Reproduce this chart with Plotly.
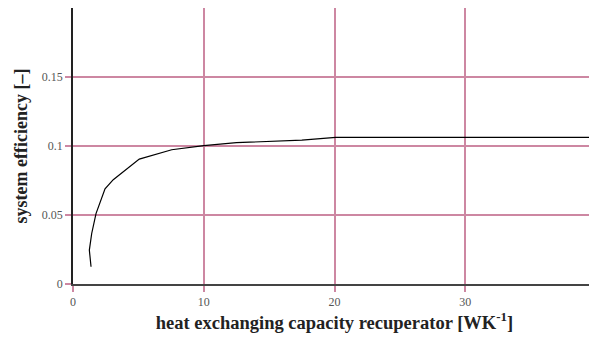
import plotly.graph_objects as go

capacity = [1.38, 1.25, 1.43, 1.76, 2.45, 3.08, 5.07, 7.55, 10.0, 12.5, 17.5, 20.1, 40.0]
efficiency = [0.0125, 0.0246, 0.0366, 0.051, 0.069, 0.0756, 0.0905, 0.0973, 0.1002, 0.1024, 0.1043, 0.1062, 0.1062]

x_ticks = [0, 10, 20, 30]
x_labels = ["0", "10", "20", "30"]
y_ticks = [0, 0.05, 0.1, 0.15]
y_labels = ["0", "0.05", "0.1", "0.15"]

grid_color = "rgb(205,135,162)"
font_family = "Liberation Serif, DejaVu Serif, serif"

fig = go.Figure()
fig.add_trace(go.Scatter(x=capacity, y=efficiency, mode="lines",
                         line=dict(color="black", width=1.2), showlegend=False))

# page body has an 8px default margin, so the figure is sized/margined to compensate
fig.update_layout(
    width=589, height=330,
    margin=dict(l=65, r=1, t=0, b=54),
    paper_bgcolor="white", plot_bgcolor="white",
    font=dict(family=font_family, size=12, color="#555555"),
    xaxis=dict(
        range=[0, 40], tickvals=x_ticks, ticktext=x_labels,
        showgrid=True, gridcolor=grid_color, gridwidth=1.5,
        showline=True, linecolor="#444444", linewidth=1.5,
        ticks="outside", tickcolor=grid_color, ticklen=6, tickwidth=1.5,
        zeroline=False, automargin=False,
        title=dict(text="heat exchanging capacity recuperator [WK<sup>-1</sup>]",
                   font=dict(family=font_family, size=18.5, color="#222222", weight="bold"),
                   standoff=6),
    ),
    yaxis=dict(
        range=[0, 0.2], tickvals=y_ticks, ticktext=y_labels,
        showgrid=True, gridcolor=grid_color, gridwidth=1.5,
        showline=True, linecolor="#222222", linewidth=1.5,
        ticks="outside", tickcolor=grid_color, ticklen=6, tickwidth=1.5,
        zeroline=False, automargin=False,
        title=dict(text="system efficiency [–]",
                   font=dict(family=font_family, size=18, color="#222222", weight="bold"),
                   standoff=10),
    ),
)

fig.write_html("out.html")
